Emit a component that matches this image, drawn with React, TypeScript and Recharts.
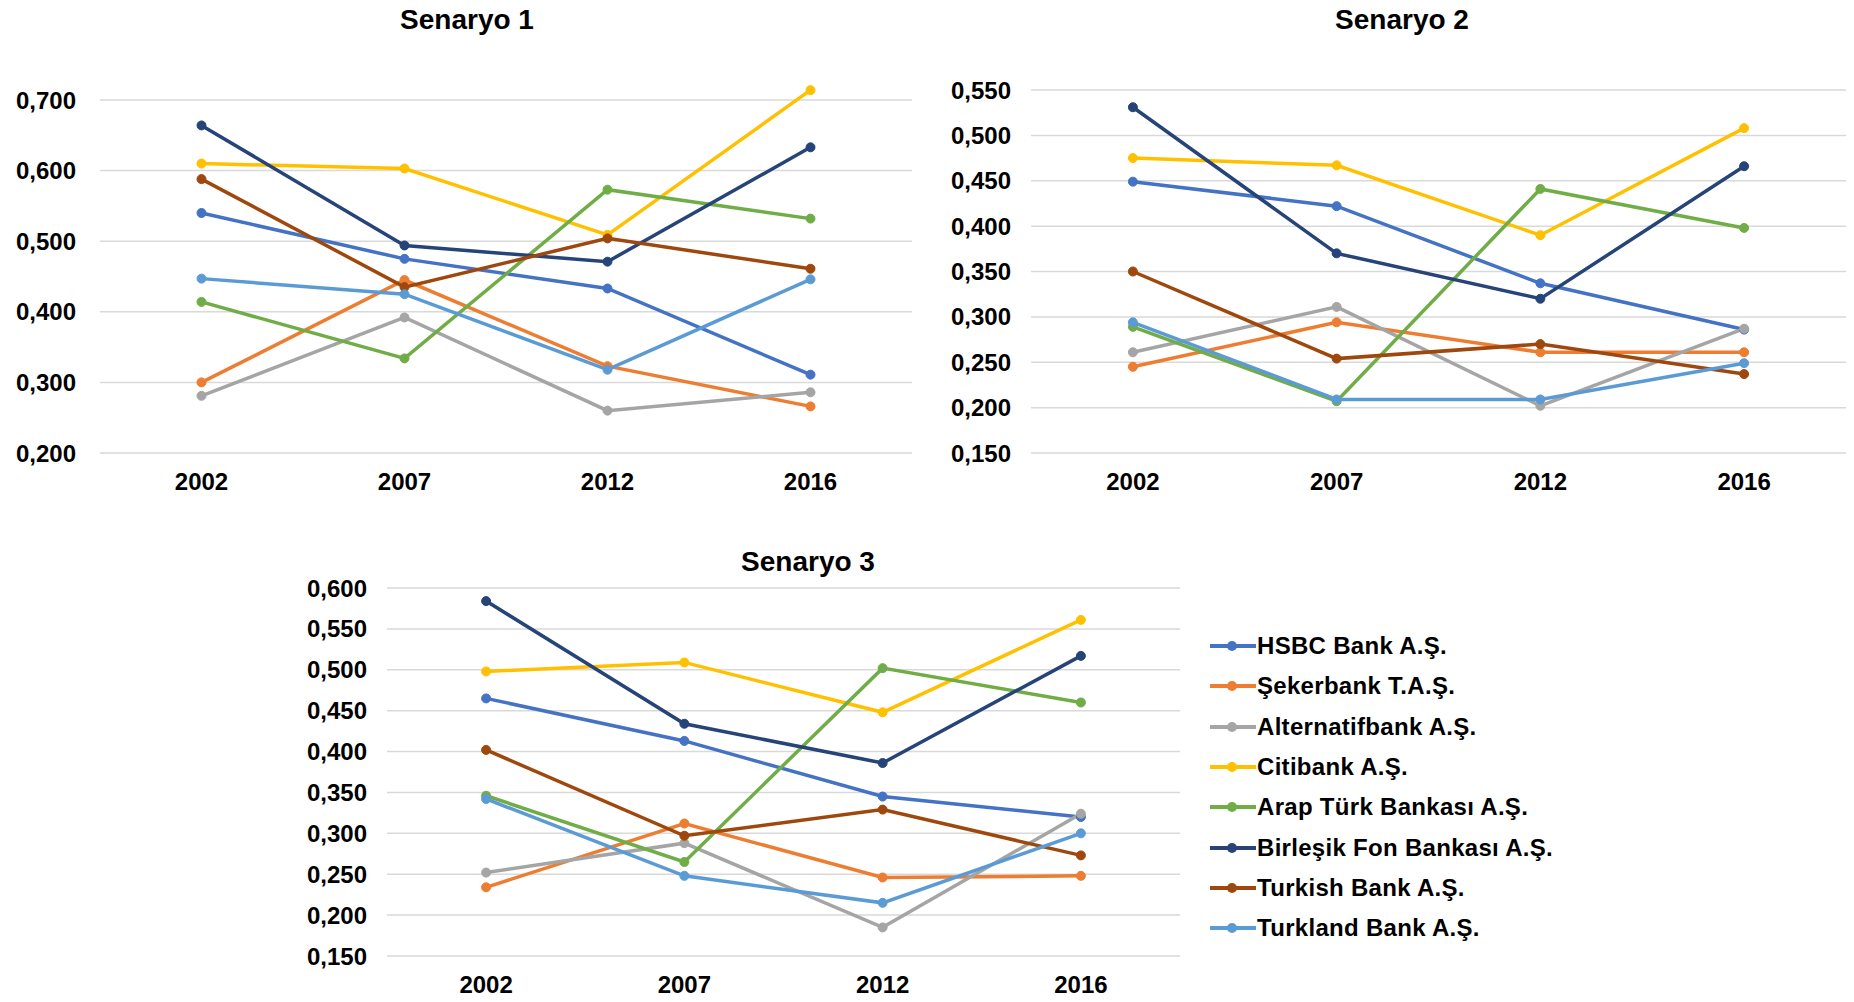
import React from 'react';
import { LineChart, Line, XAxis, YAxis, CartesianGrid, Legend } from 'recharts';

const categories = ['2002', '2007', '2012', '2016'];

const bankNames = [
  'HSBC Bank A.Ş.',
  'Şekerbank T.A.Ş.',
  'Alternatifbank A.Ş.',
  'Citibank A.Ş.',
  'Arap Türk Bankası A.Ş.',
  'Birleşik Fon Bankası A.Ş.',
  'Turkish Bank A.Ş.',
  'Turkland Bank A.Ş.',
];

const bankColors = ['#4472C4', '#ED7D31', '#A5A5A5', '#FFC000', '#70AD47', '#264478', '#9E480E', '#5B9BD5'];

// Senaryo 1
const hsbc1 = [0.540, 0.475, 0.433, 0.311];
const seker1 = [0.300, 0.445, 0.323, 0.266];
const alt1 = [0.281, 0.392, 0.260, 0.286];
const citi1 = [0.610, 0.603, 0.509, 0.714];
const arap1 = [0.414, 0.334, 0.573, 0.532];
const birl1 = [0.664, 0.494, 0.471, 0.633];
const turkish1 = [0.588, 0.435, 0.504, 0.461];
const turkland1 = [0.447, 0.425, 0.318, 0.446];

// Senaryo 2
const hsbc2 = [0.449, 0.422, 0.337, 0.286];
const seker2 = [0.245, 0.294, 0.261, 0.261];
const alt2 = [0.261, 0.311, 0.202, 0.287];
const citi2 = [0.475, 0.467, 0.390, 0.508];
const arap2 = [0.289, 0.207, 0.441, 0.398];
const birl2 = [0.531, 0.370, 0.320, 0.466];
const turkish2 = [0.350, 0.254, 0.270, 0.237];
const turkland2 = [0.294, 0.209, 0.209, 0.249];

// Senaryo 3
const hsbc3 = [0.465, 0.413, 0.345, 0.320];
const seker3 = [0.234, 0.312, 0.246, 0.248];
const alt3 = [0.252, 0.288, 0.185, 0.324];
const citi3 = [0.498, 0.509, 0.448, 0.561];
const arap3 = [0.346, 0.265, 0.502, 0.460];
const birl3 = [0.584, 0.434, 0.386, 0.517];
const turkish3 = [0.402, 0.297, 0.329, 0.273];
const turkland3 = [0.342, 0.248, 0.215, 0.300];

const ticks1 = [0.2, 0.3, 0.4, 0.5, 0.6, 0.7];
const ticks2 = [0.15, 0.2, 0.25, 0.3, 0.35, 0.4, 0.45, 0.5, 0.55];
const ticks3 = [0.15, 0.2, 0.25, 0.3, 0.35, 0.4, 0.45, 0.5, 0.55, 0.6];

const titles = ['Senaryo 1', 'Senaryo 2', 'Senaryo 3'];

const buildData = (series: number[][]) =>
  categories.map((c, i) => {
    const row: Record<string, any> = { year: c };
    bankNames.forEach((b, j) => {
      row[b] = series[j][i];
    });
    return row;
  });

const data1 = buildData([hsbc1, seker1, alt1, citi1, arap1, birl1, turkish1, turkland1]);
const data2 = buildData([hsbc2, seker2, alt2, citi2, arap2, birl2, turkish2, turkland2]);
const data3 = buildData([hsbc3, seker3, alt3, citi3, arap3, birl3, turkish3, turkland3]);

const FONT = '"Liberation Sans", Arial, sans-serif';
const fmt = (v: number) => v.toFixed(3).replace('.', ',');

const tickStyle = { fontSize: 24, fontWeight: 700, fill: '#000', fontFamily: FONT };

const LegendContent = () => (
  <div style={{ fontFamily: FONT }}>
    {bankNames.map((b, i) => (
      <div key={b} style={{ height: 40.3, display: 'flex', alignItems: 'center' }}>
        <svg width={47} height={20} style={{ display: 'block' }}>
          <line x1={0} y1={10} x2={46} y2={10} stroke={bankColors[i]} strokeWidth={4} />
          <circle cx={22} cy={10} r={5} fill={bankColors[i]} />
        </svg>
        <span style={{ fontSize: 24, fontWeight: 700, color: '#000', whiteSpace: 'nowrap', letterSpacing: 0.3 }}>{b}</span>
      </div>
    ))}
  </div>
);

type PanelProps = {
  data: any[];
  ticks: number[];
  domainMax: number;
  left: number;
  top: number;
  width: number;
  height: number;
  margin: { top: number; right: number; bottom: number; left: number };
  yWidth: number;
  yTickMargin: number;
  xPad: number;
  withLegend?: boolean;
};

const Panel = ({ data, ticks, domainMax, left, top, width, height, margin, yWidth, yTickMargin, xPad, withLegend }: PanelProps) => {
  const gridGen = (props: any) => {
    const yAxis = props && props.yAxis;
    const scale = yAxis && yAxis.scale;
    if (typeof scale === 'function') {
      return ticks.map((t) => scale(t));
    }
    if (scale && typeof scale.map === 'function') {
      return ticks.map((t) => scale.map(t));
    }
    return [];
  };
  return (
    <div style={{ position: 'absolute', left, top, width, height }}>
      <LineChart width={width} height={height} data={data} margin={margin}>
        <CartesianGrid vertical={false} stroke="#d9d9d9" strokeWidth={1.5} horizontalCoordinatesGenerator={gridGen} />
        <XAxis
          dataKey="year"
          axisLine={false}
          tickLine={false}
          tickSize={0}
          tickMargin={20}
          height={40}
          tick={tickStyle}
          interval={0}
          padding={{ left: xPad, right: xPad }}
        />
        <YAxis
          domain={[ticks[0], domainMax]}
          ticks={ticks}
          tickFormatter={fmt}
          axisLine={false}
          tickLine={false}
          tickSize={0}
          tickMargin={yTickMargin}
          width={yWidth}
          tick={tickStyle}
          interval={0}
        />
        {bankNames.map((b, i) => (
          <Line
            key={b}
            type="linear"
            dataKey={b}
            stroke={bankColors[i]}
            strokeWidth={3.5}
            dot={{ r: 4.5, fill: bankColors[i], stroke: bankColors[i], strokeWidth: 1 }}
            activeDot={false}
            isAnimationActive={false}
          />
        ))}
        {withLegend && (
          <Legend
            layout="vertical"
            align="center"
            verticalAlign="middle"
            content={<LegendContent />}
            wrapperStyle={{ position: 'absolute', left: 930, top: 106, width: 400, height: 330 }}
          />
        )}
      </LineChart>
    </div>
  );
};

const titleStyle = (cx: number, top: number): React.CSSProperties => ({
  position: 'absolute',
  left: cx - 150,
  top,
  width: 300,
  textAlign: 'center',
  fontFamily: FONT,
  fontWeight: 700,
  fontSize: 28,
  lineHeight: '32px',
  color: '#000',
});

export default function App() {
  return (
    <div style={{ position: 'absolute', left: 0, top: 0, width: 1854, height: 1002, background: '#fff', overflow: 'hidden' }}>
      <div style={titleStyle(467, 4)}>{titles[0]}</div>
      <div style={titleStyle(1402, 4)}>{titles[1]}</div>
      <div style={titleStyle(808, 546)}>{titles[2]}</div>
      <Panel
        data={data1}
        ticks={ticks1}
        domainMax={0.72}
        left={0}
        top={0}
        width={930}
        height={500}
        margin={{ top: 85.9, right: 18, bottom: 7, left: 0 }}
        yWidth={100}
        yTickMargin={24}
        xPad={101.5}
      />
      <Panel
        data={data2}
        ticks={ticks2}
        domainMax={0.55}
        left={930}
        top={0}
        width={924}
        height={500}
        margin={{ top: 90, right: 8, bottom: 7, left: 0 }}
        yWidth={101}
        yTickMargin={20}
        xPad={101.9}
      />
      <Panel
        data={data3}
        ticks={ticks3}
        domainMax={0.6}
        left={280}
        top={520}
        width={1320}
        height={482}
        margin={{ top: 68, right: 420, bottom: 6, left: 0 }}
        yWidth={107}
        yTickMargin={20}
        xPad={99.1}
        withLegend
      />
    </div>
  );
}
